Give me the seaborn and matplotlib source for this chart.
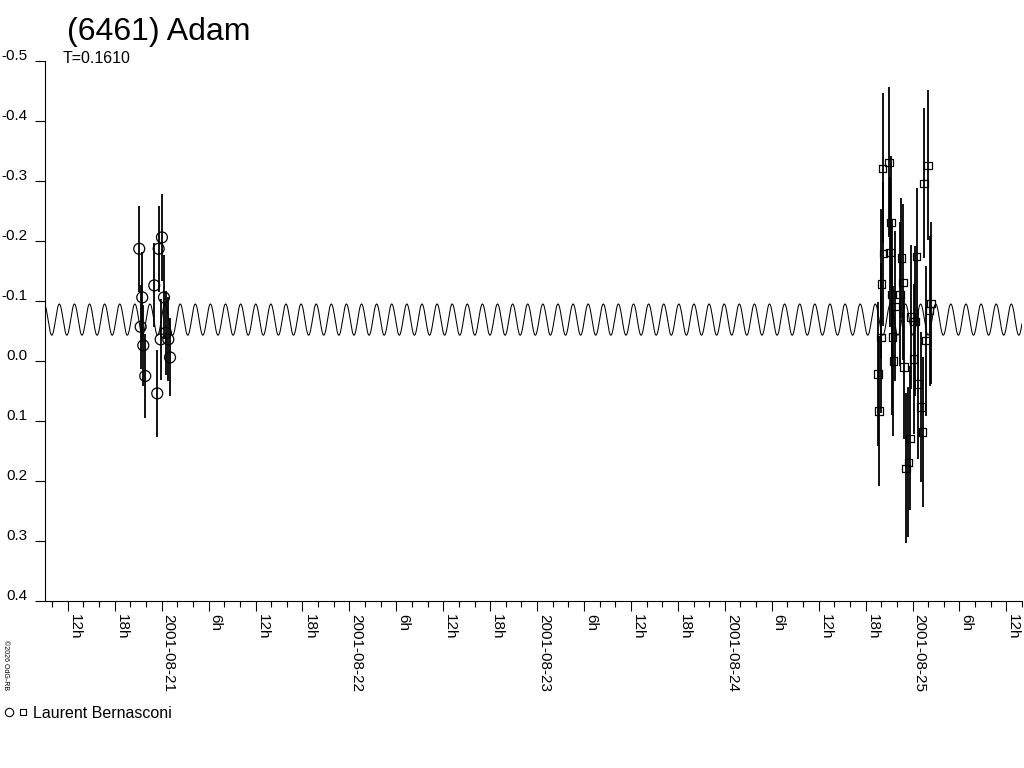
import numpy as np
import pandas as pd
import seaborn as sns
import matplotlib.pyplot as plt
import matplotlib.dates as mdates
from matplotlib.lines import Line2D
from matplotlib.legend_handler import HandlerTuple
from matplotlib.transforms import ScaledTranslation

# session 1 (circles), 2001-08-20/21
circle_times = ['2001-08-20 21:08', '2001-08-20 21:31', '2001-08-20 21:19', '2001-08-20 21:39',
                '2001-08-20 21:54', '2001-08-20 23:03', '2001-08-20 23:26', '2001-08-20 23:37',
                '2001-08-21 00:02', '2001-08-21 00:18', '2001-08-20 23:52', '2001-08-21 00:51',
                '2001-08-21 01:04', '2001-08-21 00:31']
circle_mags = [-0.187, -0.106, -0.057, -0.026, 0.025, -0.126, 0.054, -0.187,
               -0.206, -0.106, -0.036, -0.036, -0.006, -0.047]
circle_errs = [0.072, 0.075, 0.070, 0.068, 0.070, 0.070, 0.072, 0.072,
               0.072, 0.070, 0.068, 0.070, 0.065, 0.070]

# session 2 (squares), 2001-08-24/25
square_times = ['2001-08-24 20:10', '2001-08-24 20:58', '2001-08-25 01:58', '2001-08-25 01:27',
                '2001-08-24 21:13', '2001-08-24 20:17', '2001-08-24 21:06', '2001-08-24 22:35',
                '2001-08-25 00:31', '2001-08-24 20:02', '2001-08-24 22:46', '2001-08-24 21:19',
                '2001-08-24 22:25', '2001-08-24 21:44', '2001-08-25 02:21', '2001-08-25 02:11',
                '2001-08-24 23:47', '2001-08-25 00:20', '2001-08-24 19:56', '2001-08-24 21:26',
                '2001-08-25 01:42', '2001-08-24 21:34', '2001-08-24 22:55', '2001-08-25 00:08',
                '2001-08-24 19:36', '2001-08-25 00:43', '2001-08-25 01:04', '2001-08-24 19:43',
                '2001-08-25 01:17', '2001-08-24 23:39', '2001-08-24 23:29', '2001-08-24 23:09']
square_mags = [-0.321, -0.331, -0.326, -0.296, -0.231, -0.179, -0.181, -0.172,
               -0.174, -0.128, -0.131, -0.111, -0.111, -0.091, -0.096, -0.084,
               -0.073, -0.066, -0.039, -0.040, -0.034, 0.000, 0.010, -0.003,
               0.022, 0.038, 0.077, 0.083, 0.118, 0.129, 0.169, 0.179]
square_errs = [0.125, 0.125, 0.125, 0.125, 0.110, 0.120, 0.125, 0.100,
               0.115, 0.125, 0.130, 0.125, 0.120, 0.125, 0.135, 0.125,
               0.120, 0.125, 0.125, 0.130, 0.125, 0.125, 0.120, 0.125,
               0.120, 0.125, 0.125, 0.125, 0.125, 0.120, 0.125, 0.125]

# fitted lightcurve (double-peaked, period T)
period_days = 0.1610
curve_mean = -0.069
curve_amp = 0.026
curve_peak = '2001-08-22 07:21'

y_ticks = [-0.5, -0.4, -0.3, -0.2, -0.1, 0.0, 0.1, 0.2, 0.3, 0.4]
y_labels = ['-0.5', '-0.4', '-0.3', '-0.2', '-0.1', '0.0', '0.1', '0.2', '0.3', '0.4']
x_start = '2001-08-20 09:05'
x_end = '2001-08-25 14:00'

sns.set_style('white')
plt.rcParams['font.family'] = ['Liberation Sans', 'DejaVu Sans']
plt.rcParams['text.color'] = 'black'

circles = pd.DataFrame({'time': pd.to_datetime(circle_times), 'mag': circle_mags, 'err': circle_errs})
squares = pd.DataFrame({'time': pd.to_datetime(square_times), 'mag': square_mags, 'err': square_errs})

t0 = pd.Timestamp(x_start)
t1 = pd.Timestamp(x_end)
grid = pd.date_range(t0, t1, periods=8000)
phase = (grid - pd.Timestamp(curve_peak)) / pd.Timedelta(days=1) / (period_days / 2)
curve = pd.DataFrame({'time': grid, 'mag': curve_mean - curve_amp * np.cos(2 * np.pi * phase)})

fig = plt.figure(figsize=(10.24, 7.68), dpi=100)
ax = fig.add_axes([45 / 1024, 1 - 601 / 768, 977 / 1024, 540 / 768])

sns.lineplot(data=curve, x='time', y='mag', color='black', lw=0.75, ax=ax,
             estimator=None, sort=False)
for df in (circles, squares):
    ax.vlines(df['time'], df['mag'] - df['err'], df['mag'] + df['err'], color='black', lw=1.3)
sns.scatterplot(data=circles, x='time', y='mag', marker='o', s=62, facecolor='none',
                edgecolor='black', linewidth=0.9, ax=ax, legend=False, zorder=3)
sns.scatterplot(data=squares, x='time', y='mag', marker='s', s=30, facecolor='none',
                edgecolor='black', linewidth=0.9, ax=ax, legend=False, zorder=3)

ax.set_xlim(t0, t1)
ax.set_ylim(0.4, -0.5)
ax.set_yticks(y_ticks)
ax.set_yticklabels(y_labels)
ax.set_xlabel('')
ax.set_ylabel('')
for s in ('top', 'right'):
    ax.spines[s].set_visible(False)
for s in ('left', 'bottom'):
    ax.spines[s].set_color('black')
    ax.spines[s].set_linewidth(0.8)


def hour_fmt(x, pos=None):
    d = mdates.num2date(x)
    if d.hour == 0:
        return d.strftime('%Y-%m-%d')
    return '%dh' % d.hour


ax.xaxis.set_major_locator(mdates.HourLocator(byhour=[0, 6, 12, 18]))
ax.xaxis.set_minor_locator(mdates.HourLocator(interval=2))
ax.xaxis.set_major_formatter(plt.FuncFormatter(hour_fmt))
ax.tick_params(axis='x', which='major', bottom=True, direction='out', length=7.5, width=0.8,
               pad=1.5, labelsize=11, colors='black')
ax.tick_params(axis='x', which='minor', bottom=True, direction='out', length=4.5, width=0.8,
               colors='black')
ax.tick_params(axis='y', left=True, direction='out', length=7.5, width=0.8, pad=5,
               labelsize=11, colors='black')
for lab in ax.get_xticklabels():
    lab.set_rotation(-90)
    lab.set_ha('left')
    lab.set_va('top')
shift = ScaledTranslation(0, 0.06, fig.dpi_scale_trans)
for lab in ax.get_yticklabels():
    lab.set_transform(lab.get_transform() + shift)

fig.text(67 / 1024, 1 - 40 / 768, '(6461) Adam', fontsize=23, va='baseline')
fig.text(63 / 1024, 1 - 63 / 768, 'T=0.1610', fontsize=11.5, va='baseline')
fig.text(2 / 1024, 1 - 640 / 768, '\u00a92026 OdG-RB', fontsize=5, rotation=-90,
         ha='left', va='top')

h_c = Line2D([], [], marker='o', ls='none', ms=6, mfc='none', mec='black', mew=0.8)
h_s = Line2D([], [], marker='s', ls='none', ms=4.5, mfc='none', mec='black', mew=0.8)
fig.legend(handles=[(h_c, h_s)], labels=['Laurent Bernasconi'],
           handler_map={tuple: HandlerTuple(ndivide=None, pad=0.2)},
           loc='center left', bbox_to_anchor=(3 / 1024, 1 - 713 / 768), frameon=False,
           fontsize=11.5, handlelength=1.6, handletextpad=0.3, borderpad=0, borderaxespad=0)

fig.savefig('out.png', dpi=100)
